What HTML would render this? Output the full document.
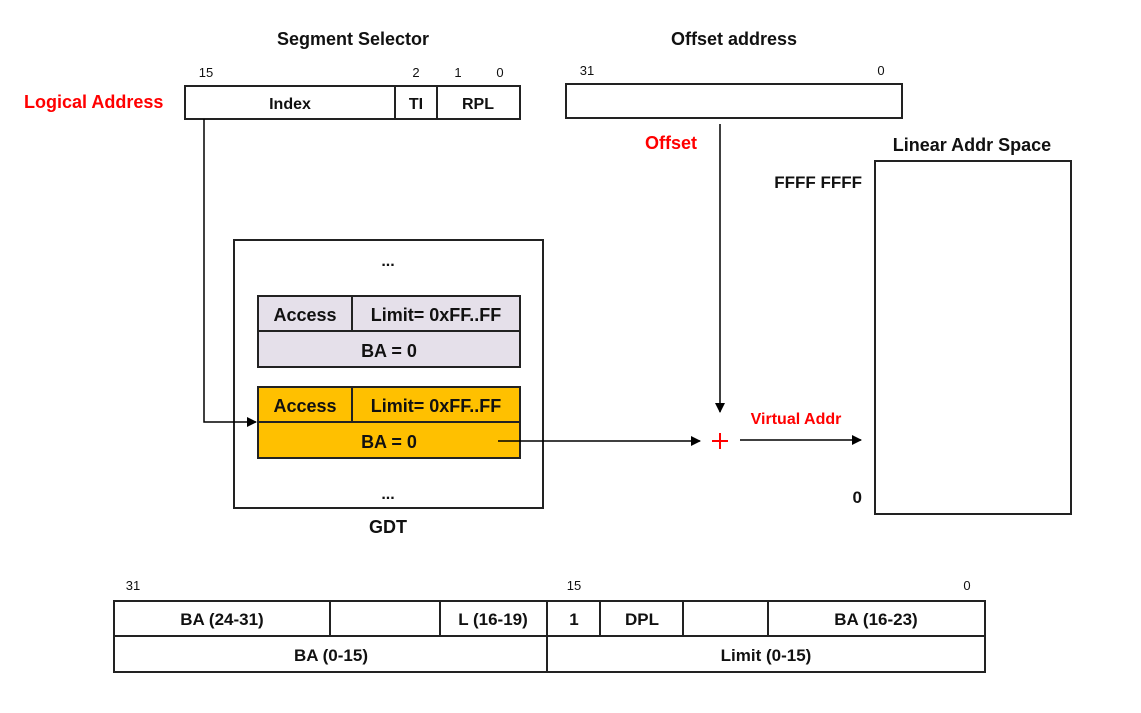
<!DOCTYPE html>
<html><head><meta charset="utf-8"><style>
html,body{margin:0;padding:0;background:#fff;}
svg{display:block;}
text{font-family:"Liberation Sans",sans-serif;font-weight:bold;fill:#111;}
.s{font-weight:normal;font-size:13px;}
.r{fill:#f00;}
</style></head><body>
<svg width="1141" height="713" viewBox="0 0 1141 713">
<defs><marker id="a" markerWidth="10" markerHeight="10" refX="9" refY="5" orient="auto" markerUnits="userSpaceOnUse"><path d="M0,0 L10,5 L0,10 z" fill="#000"/></marker></defs>
<g stroke="#222" stroke-width="2" fill="none">
<rect x="185" y="86" width="335" height="33" fill="#fff"/>
<line x1="395" y1="86" x2="395" y2="119"/><line x1="437" y1="86" x2="437" y2="119"/>
<rect x="566" y="84" width="336" height="34"/>
<rect x="875" y="161" width="196" height="353"/>
<rect x="234" y="240" width="309" height="268"/>
<rect x="258" y="296" width="262" height="71" fill="#e5e0ea"/>
<line x1="258" y1="331" x2="520" y2="331"/><line x1="352" y1="296" x2="352" y2="331"/>
<rect x="258" y="387" width="262" height="71" fill="#ffc000"/>
<line x1="258" y1="422" x2="520" y2="422"/><line x1="352" y1="387" x2="352" y2="422"/>
<rect x="114" y="601" width="871" height="71"/>
<line x1="114" y1="636" x2="985" y2="636"/>
<line x1="330" y1="601" x2="330" y2="636"/><line x1="440" y1="601" x2="440" y2="636"/>
<line x1="547" y1="601" x2="547" y2="672"/><line x1="600" y1="601" x2="600" y2="636"/>
<line x1="683" y1="601" x2="683" y2="636"/><line x1="768" y1="601" x2="768" y2="636"/>
</g>
<g stroke="#000" stroke-width="1.5" fill="none">
<polyline points="204,119 204,422 256,422" marker-end="url(#a)"/>
<line x1="498" y1="441" x2="700" y2="441" marker-end="url(#a)"/>
<line x1="720" y1="124" x2="720" y2="412" marker-end="url(#a)"/>
<line x1="740" y1="440" x2="861" y2="440" marker-end="url(#a)"/>
</g>
<g stroke="#f00" stroke-width="2"><line x1="712" y1="441" x2="728" y2="441"/><line x1="720" y1="433" x2="720" y2="449"/></g>
<text x="353" y="45" font-size="18" text-anchor="middle">Segment Selector</text>
<text x="734" y="45" font-size="18" text-anchor="middle">Offset address</text>
<text class="s" x="206" y="77" text-anchor="middle">15</text>
<text class="s" x="416" y="77" text-anchor="middle">2</text>
<text class="s" x="458" y="77" text-anchor="middle">1</text>
<text class="s" x="500" y="77" text-anchor="middle">0</text>
<text class="s" x="587" y="75" text-anchor="middle">31</text>
<text class="s" x="881" y="75" text-anchor="middle">0</text>
<text class="r" x="24" y="108" font-size="18">Logical Address</text>
<text x="290" y="109" font-size="16" text-anchor="middle">Index</text>
<text x="416" y="109" font-size="16" text-anchor="middle">TI</text>
<text x="478" y="109" font-size="16" text-anchor="middle">RPL</text>
<text class="r" x="671" y="149" font-size="18" text-anchor="middle">Offset</text>
<text x="972" y="151" font-size="18" text-anchor="middle">Linear Addr Space</text>
<text x="862" y="188" font-size="17" text-anchor="end">FFFF FFFF</text>
<text x="862" y="503" font-size="17" text-anchor="end">0</text>
<text class="r" x="796" y="424" font-size="16" text-anchor="middle">Virtual Addr</text>
<text x="388" y="266" font-size="16" text-anchor="middle">...</text>
<text x="388" y="499" font-size="16" text-anchor="middle">...</text>
<text x="388" y="533" font-size="18" text-anchor="middle">GDT</text>
<text x="305" y="321" font-size="18" text-anchor="middle">Access</text>
<text x="436" y="321" font-size="18" text-anchor="middle">Limit= 0xFF..FF</text>
<text x="389" y="357" font-size="18" text-anchor="middle">BA = 0</text>
<text x="305" y="412" font-size="18" text-anchor="middle">Access</text>
<text x="436" y="412" font-size="18" text-anchor="middle">Limit= 0xFF..FF</text>
<text x="389" y="448" font-size="18" text-anchor="middle">BA = 0</text>
<text class="s" x="133" y="590" text-anchor="middle">31</text>
<text class="s" x="574" y="590" text-anchor="middle">15</text>
<text class="s" x="967" y="590" text-anchor="middle">0</text>
<text x="222" y="625" font-size="17" text-anchor="middle">BA (24-31)</text>
<text x="493" y="625" font-size="17" text-anchor="middle">L (16-19)</text>
<text x="574" y="625" font-size="17" text-anchor="middle">1</text>
<text x="642" y="625" font-size="17" text-anchor="middle">DPL</text>
<text x="876" y="625" font-size="17" text-anchor="middle">BA (16-23)</text>
<text x="331" y="661" font-size="17" text-anchor="middle">BA (0-15)</text>
<text x="766" y="661" font-size="17" text-anchor="middle">Limit (0-15)</text>
</svg>
</body></html>
